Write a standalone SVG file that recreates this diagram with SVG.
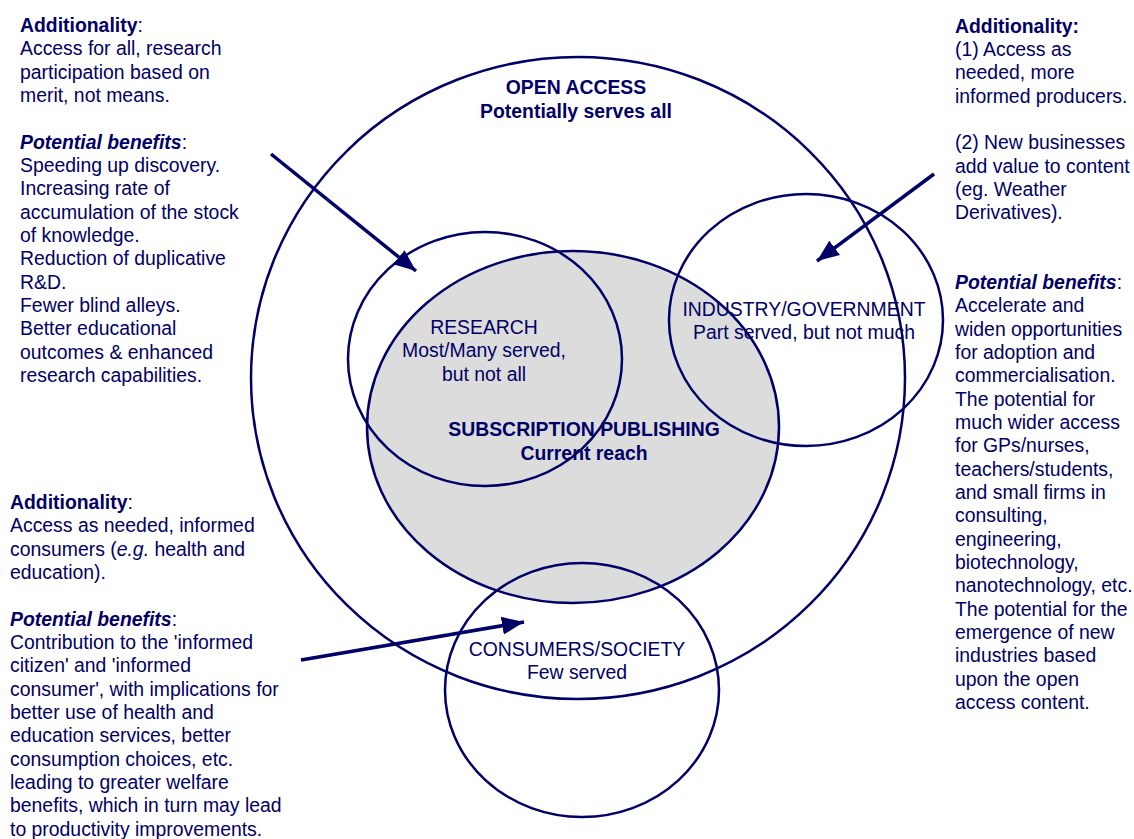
<svg xmlns="http://www.w3.org/2000/svg" width="1134" height="839" viewBox="0 0 1134 839">
<defs>
<style>
.ln{fill:none;stroke:#000066;stroke-width:2.5}
.ar{fill:none;stroke:#000066;stroke-width:3.5}
text{font-family:"Liberation Sans",Arial,sans-serif;font-size:19.4px;fill:#000066}
.b{font-weight:bold}
.c{text-anchor:middle}
.bi{font-weight:bold;font-style:italic}
</style>
<marker id="ah" markerUnits="userSpaceOnUse" markerWidth="24" markerHeight="20" refX="22" refY="9" orient="auto" viewBox="0 0 24 18">
<path d="M0,0 L22,9 L0,18 z" fill="#000066"/>
</marker>
</defs>
<rect width="1134" height="839" fill="#ffffff"/>
<g id="open-access">
<ellipse class="ln" cx="578" cy="378" rx="327" ry="321"/>
<text class="b c" x="576" y="94">OPEN ACCESS</text>
<text class="b c" x="576" y="118">Potentially serves all</text>
</g>
<g id="subscription">
<ellipse cx="573" cy="427" rx="206" ry="176" fill="#dcdcdc" stroke="#000066" stroke-width="2.5"/>
</g>
<g id="research">
<ellipse class="ln" cx="485" cy="359" rx="137" ry="127"/>
<text class="c" x="484" y="334">RESEARCH</text>
<text class="c" x="484" y="357">Most/Many served,</text>
<text class="c" x="484" y="381">but not all</text>
</g>
<g id="industry">
<ellipse class="ln" cx="806" cy="320" rx="137" ry="126"/>
<text class="c" x="804" y="316">INDUSTRY/GOVERNMENT</text>
<text class="c" x="804" y="339">Part served, but not much</text>
</g>
<g id="consumers">
<ellipse class="ln" cx="582" cy="690" rx="137" ry="127"/>
<text class="c" x="577" y="656">CONSUMERS/SOCIETY</text>
<text class="c" x="577" y="679">Few served</text>
</g>
<g id="subscription-label">
<text class="b c" x="584" y="436">SUBSCRIPTION PUBLISHING</text>
<text class="b c" x="584" y="460">Current reach</text>
</g>
<g id="connectors">
<line class="ar" x1="271" y1="154" x2="416" y2="271" marker-end="url(#ah)"/>
<line class="ar" x1="934" y1="174" x2="817" y2="261" marker-end="url(#ah)"/>
<line class="ar" x1="301" y1="660" x2="524" y2="622" marker-end="url(#ah)"/>
</g>
<g id="text-research">
<text x="20" y="32"><tspan class="b">Additionality</tspan>:</text>
<text x="20" y="55">Access for all, research</text>
<text x="20" y="79">participation based on</text>
<text x="20" y="102">merit, not means.</text>
<text x="20" y="149"><tspan class="bi">Potential benefits</tspan>:</text>
<text x="20" y="172">Speeding up discovery.</text>
<text x="20" y="195">Increasing rate of</text>
<text x="20" y="219">accumulation of the stock</text>
<text x="20" y="242">of knowledge.</text>
<text x="20" y="265">Reduction of duplicative</text>
<text x="20" y="289">R&amp;D.</text>
<text x="20" y="312">Fewer blind alleys.</text>
<text x="20" y="335">Better educational</text>
<text x="20" y="359">outcomes &amp; enhanced</text>
<text x="20" y="382">research capabilities.</text>
</g>
<g id="text-industry">
<text class="b" x="955" y="33">Additionality:</text>
<text x="955" y="56">(1) Access as</text>
<text x="955" y="79">needed, more</text>
<text x="955" y="103">informed producers.</text>
<text x="955" y="149">(2) New businesses</text>
<text x="955" y="173">add value to content</text>
<text x="955" y="196">(eg. Weather</text>
<text x="955" y="219">Derivatives).</text>
<text x="955" y="289"><tspan class="bi">Potential benefits</tspan>:</text>
<text x="955" y="312">Accelerate and</text>
<text x="955" y="336">widen opportunities</text>
<text x="955" y="359">for adoption and</text>
<text x="955" y="382">commercialisation.</text>
<text x="955" y="406">The potential for</text>
<text x="955" y="429">much wider access</text>
<text x="955" y="452">for GPs/nurses,</text>
<text x="955" y="476">teachers/students,</text>
<text x="955" y="499">and small firms in</text>
<text x="955" y="522">consulting,</text>
<text x="955" y="546">engineering,</text>
<text x="955" y="569">biotechnology,</text>
<text x="955" y="592">nanotechnology, etc.</text>
<text x="955" y="616">The potential for the</text>
<text x="955" y="639">emergence of new</text>
<text x="955" y="662">industries based</text>
<text x="955" y="686">upon the open</text>
<text x="955" y="709">access content.</text>
</g>
<g id="text-consumers">
<text x="10" y="509"><tspan class="b">Additionality</tspan>:</text>
<text x="10" y="532">Access as needed, informed</text>
<text x="10" y="556">consumers (<tspan font-style="italic">e.g.</tspan> health and</text>
<text x="10" y="579">education).</text>
<text x="10" y="626"><tspan class="bi">Potential benefits</tspan>:</text>
<text x="10" y="649">Contribution to the 'informed</text>
<text x="10" y="672">citizen' and 'informed</text>
<text x="10" y="696">consumer', with implications for</text>
<text x="10" y="719">better use of health and</text>
<text x="10" y="742">education services, better</text>
<text x="10" y="766">consumption choices, etc.</text>
<text x="10" y="789">leading to greater welfare</text>
<text x="10" y="812">benefits, which in turn may lead</text>
<text x="10" y="836">to productivity improvements.</text>
</g>
</svg>
